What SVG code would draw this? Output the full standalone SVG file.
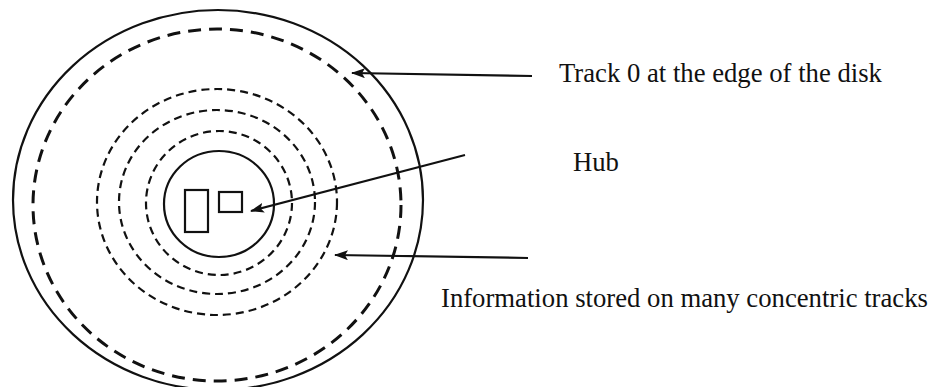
<svg xmlns="http://www.w3.org/2000/svg" width="944" height="387" viewBox="0 0 944 387">
<style>
.solid{fill:none;stroke:#111;stroke-width:2.2}
.track0{fill:none;stroke:#111;stroke-width:3;stroke-dasharray:13 8}
.track{fill:none;stroke:#111;stroke-width:2.2;stroke-dasharray:8 5}
.conn{fill:none;stroke:#111;stroke-width:2.2}
.lbl{font-family:"Liberation Serif","Times New Roman",serif;font-size:26.7px;fill:#111}
</style>
<defs>
<marker id="ah" markerWidth="14" markerHeight="10" refX="13" refY="5" orient="auto" markerUnits="userSpaceOnUse">
<path d="M0,0 L14,5 L0,10 L3,5 Z" fill="#111"/>
</marker>
</defs>
<rect width="944" height="387" fill="#fff"/>
<g id="disk">
<ellipse class="solid" cx="218" cy="200" rx="205" ry="190"/>
</g>
<g id="track0">
<ellipse class="track0" cx="217" cy="205" rx="184" ry="176"/>
</g>
<g id="tracks">
<ellipse class="track" cx="217" cy="202" rx="120" ry="113"/>
<ellipse class="track" cx="217" cy="202" rx="98" ry="92"/>
<ellipse class="track" cx="219" cy="203" rx="73" ry="72"/>
</g>
<g id="hub">
<ellipse class="solid" cx="219" cy="204" rx="55" ry="53"/>
<rect class="solid" x="185" y="190" width="23" height="42"/>
<rect class="solid" x="219" y="192" width="23" height="20"/>
</g>
<g id="connectors">
<line class="conn" x1="532" y1="76" x2="352" y2="73" marker-end="url(#ah)"/>
<line class="conn" x1="465" y1="155" x2="251" y2="211" marker-end="url(#ah)"/>
<line class="conn" x1="528" y1="258" x2="335" y2="255" marker-end="url(#ah)"/>
</g>
<g id="labels">
<text class="lbl" x="559" y="82">Track 0 at the edge of the disk</text>
<text class="lbl" x="573" y="171">Hub</text>
<text class="lbl" x="441" y="307">Information stored on many concentric tracks</text>
</g>
</svg>
